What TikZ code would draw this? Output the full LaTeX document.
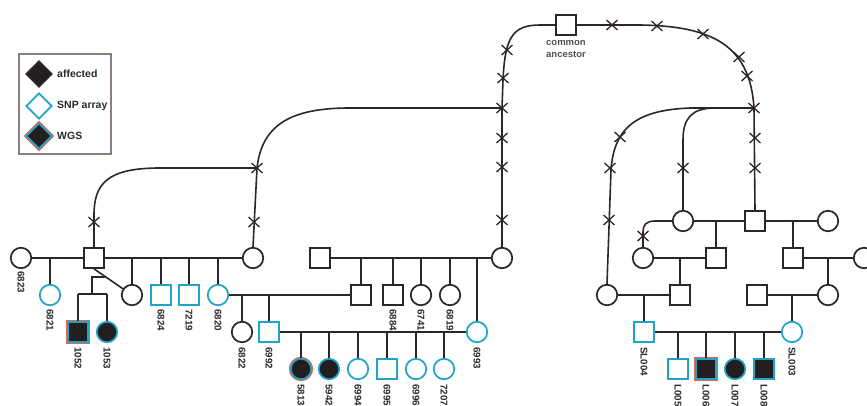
\documentclass[tikz,border=0pt]{standalone}
\usepackage{fontspec}
\setmainfont{Liberation Sans}
\usetikzlibrary{shapes.geometric,calc}

\definecolor{inkc}{HTML}{2E2626}
\definecolor{affc}{HTML}{231F20}
\definecolor{snpc}{HTML}{1FA3C8}
\definecolor{wgsc}{HTML}{E8674E}
\definecolor{framec}{HTML}{8C7F7C}
\definecolor{labc}{HTML}{2A2A2A}
\definecolor{ancc}{HTML}{555050}

\begin{document}
\begin{tikzpicture}[x=1pt,y=-1pt,
  sym/.style={draw=inkc, line width=1.7pt, inner sep=0pt, fill=white},
  male/.style={sym, rectangle, minimum size=20pt},
  female/.style={sym, circle, minimum size=20.5pt},
  snp/.style={draw=snpc},
  aff/.style={fill=affc},
  wgs/.style={fill=affc, draw=snpc, preaction={draw=wgsc, line width=3.8pt}},
  idlab/.style={font=\bfseries\fontsize{9.8}{10}\selectfont, text=labc,
    rotate=-90, anchor=west, inner sep=0pt},
  legtext/.style={font=\bfseries\fontsize{10.5}{12}\selectfont, text=labc,
    anchor=west, inner sep=0pt},
  legmark/.style={sym, diamond, minimum size=26pt},
  kin/.style={draw=inkc, line width=1.6pt},
  xmark/.pic={\draw[line width=1.3pt, inkc] (-5.5,-5) -- (5.5,5) (-5.5,5) -- (5.5,-5);}
]
\useasboundingbox (0,0) rectangle (867,405);

% ---------- legend ----------
\node[draw=framec, line width=1.1pt, minimum width=92pt, minimum height=100pt,
      inner sep=0pt] (legend) at (65,104) {};
\node[legmark, aff] (dAff) at (39,74) {};
\node[legmark, snp] (dSnp) at (39,106) {};
\node[legmark, wgs] (dWgs) at (39,136) {};
\node[legtext] (tAff) at (57,74) {affected};
\node[legtext] (tSnp) at (57,106) {SNP array};
\node[legtext] (tWgs) at (57,136) {WGS};

% ---------- common ancestor ----------
\node[male] (ca) at (566,25) {};
\node[font=\bfseries\fontsize{9.5}{12}\selectfont, text=ancc, align=center,
      inner sep=0pt] (caText) at (566,49) {common\\ancestor};

% ---------- left pedigree ----------
\node[female] (f6823) at (21,258) {};
\node[male] (mA) at (94,258) {};
\node[female] (fB) at (253,258) {};
\node[male] (mC) at (320,258) {};
\node[female] (fD) at (502,258) {};

\node[female, snp] (f6821) at (50,295) {};
\node[female] (fE) at (132,295) {};
\node[male, snp] (m6824) at (161,295) {};
\node[male, snp] (m7219) at (189,295) {};
\node[female, snp] (f6820) at (218,295) {};
\node[male] (mF) at (361,295) {};
\node[male] (m6884) at (393,295) {};
\node[female] (f6741) at (421,295) {};
\node[female] (f6819) at (450,295) {};

\node[male, wgs] (m1052) at (78,332) {};
\node[female, aff, snp] (f1053) at (107,332) {};
\node[female] (f6822) at (242,332) {};
\node[male, snp] (m6992) at (269,332) {};
\node[female, snp] (f6993) at (477,332) {};

\node[female, wgs] (f5813) at (301,369) {};
\node[female, aff, snp] (f5942) at (329,369) {};
\node[female, snp] (f6994) at (358,369) {};
\node[male, snp] (m6995) at (387,369) {};
\node[female, snp] (f6996) at (416,369) {};
\node[female, snp] (f7207) at (444,369) {};

% ---------- right pedigree ----------
\node[female] (fG) at (683,221) {};
\node[male] (mH) at (755,221) {};
\node[female] (fI) at (828,221) {};
\node[female] (fJ) at (643,258) {};
\node[male] (mK) at (716,258) {};
\node[male] (mL) at (793,258) {};
\node[female] (fM) at (864,258) {};
\node[female] (fN) at (607,295) {};
\node[male] (mO) at (680,295) {};
\node[male] (mP) at (757,295) {};
\node[female] (fQ) at (828,295) {};
\node[male, snp] (sl004) at (644,332) {};
\node[female, snp] (sl003) at (792,332) {};
\node[male, snp] (l005) at (678,369) {};
\node[male, wgs] (l006) at (706,369) {};
\node[female, aff, snp] (l007) at (735,369) {};
\node[male, aff, snp] (l008) at (764,369) {};

% ---------- ID labels ----------
\node[idlab] (t6823) at (21,271) {6823};
\node[idlab] (t6821) at (50,309) {6821};
\node[idlab] (t6824) at (161,309) {6824};
\node[idlab] (t7219) at (189,309) {7219};
\node[idlab] (t6820) at (218,309) {6820};
\node[idlab] (t6884) at (393,309) {6884};
\node[idlab] (t6741) at (421,309) {6741};
\node[idlab] (t6819) at (450,309) {6819};
\node[idlab] (t1052) at (78,347) {1052};
\node[idlab] (t1053) at (107,347) {1053};
\node[idlab] (t6822) at (242,347) {6822};
\node[idlab] (t6992) at (269,347) {6992};
\node[idlab] (t6993) at (477,347) {6993};
\node[idlab] (tsl004) at (644,347) {SL004};
\node[idlab] (tsl003) at (792,347) {SL003};
\node[idlab] (t5813) at (301,384) {5813};
\node[idlab] (t5942) at (329,384) {5942};
\node[idlab] (t6994) at (358,384) {6994};
\node[idlab] (t6995) at (387,384) {6995};
\node[idlab] (t6996) at (416,384) {6996};
\node[idlab] (t7207) at (444,384) {7207};
\node[idlab] (tl005) at (678,384) {L005};
\node[idlab] (tl006) at (706,384) {L006};
\node[idlab] (tl007) at (735,384) {L007};
\node[idlab] (tl008) at (764,384) {L008};

% ---------- left pedigree: matings and sibships ----------
\draw[kin] (f6823) -- (mA);
\draw[kin] (mA) -- (fB);
\draw[kin] (f6821 |- f6823) -- (f6821);
\foreach \c in {fE, m6824, m7219, f6820}
  \draw[kin] (\c |- mA) -- (\c);
% union of mA and fE with their two children
\draw[kin] (mA.south) -- (fE);
\coordinate (jE) at ($(mA.south)!0.3!(fE)$);
\coordinate (sE) at (92,294);
\draw[kin] (jE) -| (sE);
\draw[kin] (m1052 |- sE) -- (f1053 |- sE);
\draw[kin] (m1052 |- sE) -- (m1052);
\draw[kin] (f1053 |- sE) -- (f1053);
% 6820 line
\draw[kin] (f6820) -- (mF);
\foreach \c in {f6822, m6992}
  \draw[kin] (\c |- f6820) -- (\c);
% upper couple mC + fD
\draw[kin] (mC) -- (fD);
\foreach \c in {mF, m6884, f6741, f6819, f6993}
  \draw[kin] (\c |- mC) -- (\c);
% 6992 + 6993
\draw[kin] (m6992) -- (f6993);
\foreach \c in {f5813, f5942, f6994, m6995, f6996, f7207}
  \draw[kin] (\c |- m6992) -- (\c);

% ---------- right pedigree: matings and sibships ----------
\draw[kin] (fG) -- (mH);
\draw[kin] (mH) -- (fI);
\draw[kin] (mK |- fG) -- (mK);
\draw[kin] (mL |- mH) -- (mL);
\draw[kin] (fJ) -- (mK);
\draw[kin] (mO |- fJ) -- (mO);
\draw[kin] (mL) -- (fM);
\draw[kin] (fQ |- mL) -- (fQ);
\draw[kin] (fN) -- (mO);
\draw[kin] (sl004 |- fN) -- (sl004);
\draw[kin] (mP) -- (fQ);
\draw[kin] (sl003 |- mP) -- (sl003);
\draw[kin] (sl004) -- (sl003);
\foreach \c in {l005, l006, l007, l008}
  \draw[kin] (\c |- sl004) -- (\c);

% ---------- lines of descent (generations omitted) ----------
\coordinate (jL) at (257,168);
\coordinate (jM) at (502,108);
\coordinate (jR) at (754,108);

\draw[kin] (mA.north) -- (94,215) .. controls (94,183) and (108,168) .. (160,168) -- (jL);
\draw[kin] (fB.north) -- (jL);
\draw[kin] (jL) .. controls (262,125) and (290,108) .. (350,108) -- (jM);
\draw[kin] (fD.north) -- (jM) -- (503,80) .. controls (505,38) and (512,25) .. (540,25) -- (ca.west);
\draw[kin] (ca.east) -- (640,25) .. controls (712,26) and (750,45) .. (jR) -- (mH.north);
\draw[kin] (jR) -- (715,108) .. controls (692,108) and (683,118) .. (683,140) -- (fG.north);
\draw[kin] (jR) -- (690,108) .. controls (640,110) and (614,125) .. (611,170) -- (fN.north);
\draw[kin] (fG.west) -- (655,221) .. controls (646,221) and (643,225) .. (643,232) -- (fJ.north);

% crosses marking omitted generations
\foreach \p in {(94,222), (254,222), (257,168), (502,108), (502,220), (502,167),
                (502,138), (503,78), (507,50), (612,25), (657,26), (703,34),
                (739,57), (747,76), (754,108), (755,138), (755,168), (683,168),
                (620,137), (610,168), (609,220), (643,236)}
  \pic at \p {xmark};
\end{tikzpicture}
\end{document}
